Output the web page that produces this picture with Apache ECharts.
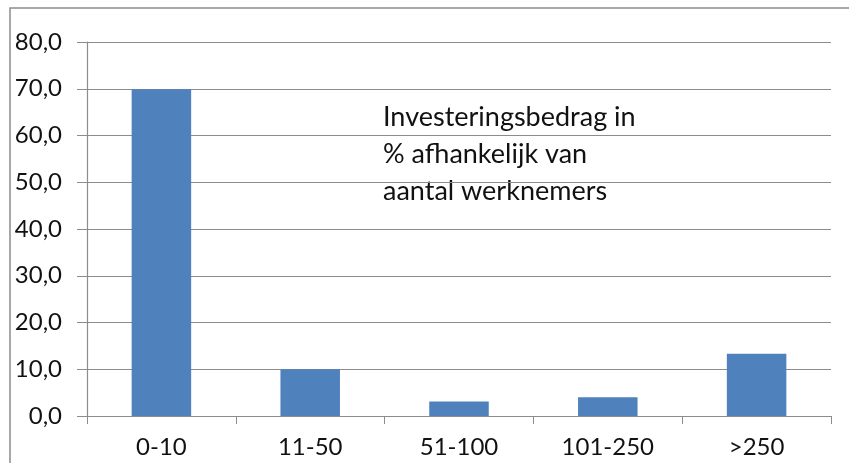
<!DOCTYPE html>
<html>
<head>
<meta charset="utf-8">
<script src="https://cdn.jsdelivr.net/npm/echarts@6/dist/echarts.min.js"></script>
<style>
  html, body { margin: 0; padding: 0; background: #fff; }
  #chart { width: 849px; height: 463px; }
</style>
</head>
<body>
<div id="chart"></div>
<script>
const categories = ['0-10', '11-50', '51-100', '101-250', '>250']
const values = [69.9, 10.0, 3.1, 4.0, 13.3]
const noteLines = ['Investeringsbedrag in', '% afhankelijk van', 'aantal werknemers']

const font = 'Lato, "Open Sans", sans-serif'
const grey = '#8c8c8c'

const chart = echarts.init(document.getElementById('chart'), null, { renderer: 'canvas' })

chart.setOption({
    animation: false,
    grid: { left: 87, right: 18, top: 42, bottom: 47, containLabel: false },
    graphic: [
        {
            type: 'rect',
            shape: { x: 10, y: 8, width: 900, height: 500 },
            style: { fill: 'none', stroke: grey, lineWidth: 1.5 },
            silent: true
        },
        {
            type: 'text',
            left: 383,
            top: 99,
            style: {
                text: noteLines.join('\n'),
                font: '27px ' + font,
                lineHeight: 37,
                fill: '#111'
            }
        }
    ],
    xAxis: {
        type: 'category',
        data: categories,
        axisLine: { lineStyle: { color: grey, width: 1.2 } },
        axisTick: { show: true, length: 8, alignWithLabel: false, lineStyle: { color: grey } },
        axisLabel: { color: '#111', fontSize: 24, fontFamily: font, margin: 19 }
    },
    yAxis: {
        type: 'value',
        min: 0,
        max: 80,
        interval: 10,
        axisLine: { show: true, lineStyle: { color: grey, width: 1.2 } },
        axisTick: { show: true, length: 10, lineStyle: { color: grey } },
        splitLine: { lineStyle: { color: grey, width: 1.2 } },
        axisLabel: {
            color: '#111',
            fontSize: 24,
            fontFamily: font,
            margin: 25,
            formatter: v => v.toFixed(1).replace('.', ',')
        }
    },
    series: [{
        type: 'bar',
        data: values,
        barWidth: '40%',
        itemStyle: { color: '#4f81bd' }
    }]
})
</script>
</body>
</html>
